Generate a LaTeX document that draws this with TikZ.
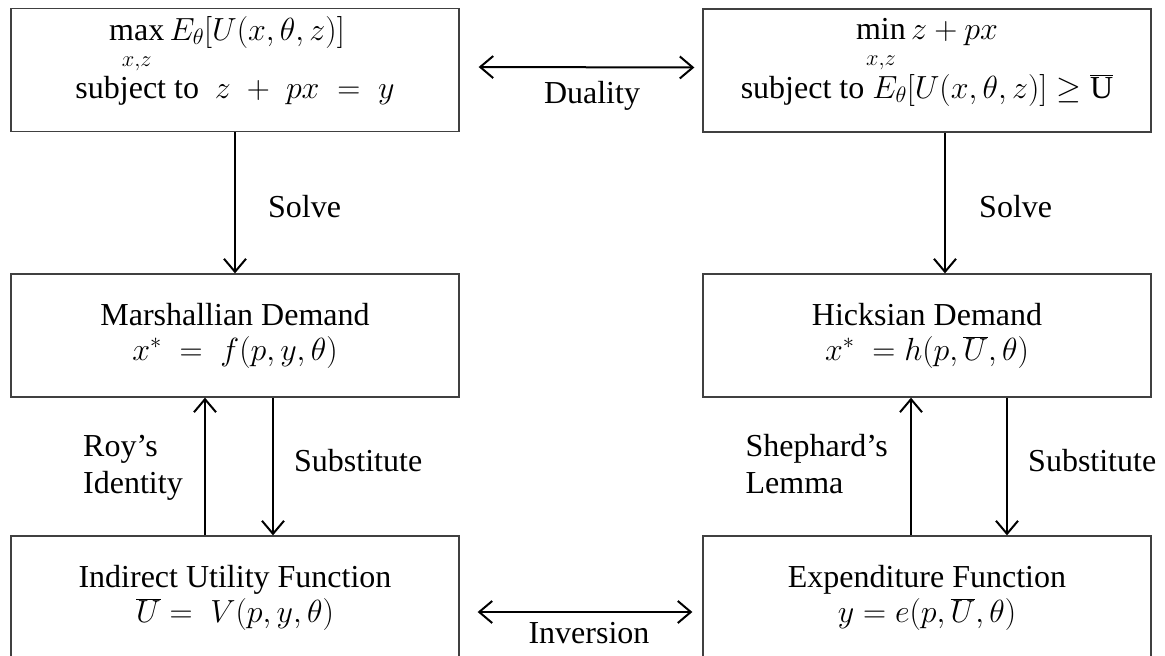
\RequirePackage{fix-cm}
\documentclass[tikz,border=0pt]{standalone}
\usepackage{fontspec}
\setmainfont{Liberation Serif}
\usetikzlibrary{arrows.meta}
\newcommand{\lowsub}{\rule{0pt}{25pt}}
\begin{document}
\begin{tikzpicture}[x=1pt,y=-1pt,
  box/.style={draw=black!75, line width=1.3pt, minimum width=448pt, minimum height=123pt,
    align=center, inner sep=0pt, font=\fontsize{32}{35}\selectfont},
  lbl/.style={inner sep=0pt, font=\fontsize{32}{37}\selectfont},
  tip/.tip={Straight Barb[length=13pt,width=22pt,line width=2pt]},
  arr/.style={line width=2pt, -tip},
  darr/.style={line width=2pt, tip-tip}]
\clip (0,0) rectangle (1165,656);
\node[box] (A) at (235,70) {};
\node[lbl, anchor=base] (A1) at (227,40) {$\max\limits_{\lowsub x,z} E_\theta[U(x,\theta,z)]$};
\node[lbl, anchor=base] (A2) at (235,98) {subject to\ \ $z \;+\; px \;=\; y$};
\node[box] (B) at (927,70.5) {};
\node[lbl, anchor=base] (B1) at (927,39) {$\min\limits_{\lowsub x,z} z+px$};
\node[lbl, anchor=base] (B2) at (927,98) {subject to $E_\theta[U(x,\theta,z)] \geq \overline{\mathrm{U}}$};
\node[box] (C) at (235,335.5) {Marshallian Demand\\ $x^* \;=\; f(p,y,\theta)$};
\node[box] (D) at (927,335.5) {Hicksian Demand\\ $x^*\; = h(p,\overline{U},\theta)$};
\node[box] (E) at (235,597.5) {Indirect Utility Function\\ $\overline{U} =\; V(p,y,\theta)$};
\node[box] (F) at (927,597.5) {Expenditure Function\\ $y = e(p,\overline{U},\theta)$};
\draw[arr] (A.south) -- (C.north);
\draw[arr] ([xshift=18pt]B.south) -- ([xshift=18pt]D.north);
\draw[arr] ([xshift=-30pt]E.north) -- ([xshift=-30pt]C.south);
\draw[arr] ([xshift=38pt]C.south) -- ([xshift=38pt]E.north);
\draw[arr] ([xshift=-16pt]F.north) -- ([xshift=-16pt]D.south);
\draw[arr] ([xshift=80pt]D.south) -- ([xshift=80pt]F.north);
\draw[darr] ([xshift=19pt,yshift=3pt]A.east) -- ([xshift=-8pt,yshift=3pt]B.west);
\draw[darr] ([xshift=18pt,yshift=-14.5pt]E.east) -- ([xshift=-10pt,yshift=-14.5pt]F.west);
\node[lbl, anchor=base] (dual) at (592,103) {Duality};
\node[lbl, anchor=base] (inv) at (589,643) {Inversion};
\node[lbl, anchor=base west] (solveL) at (268,217) {Solve};
\node[lbl, anchor=base west] (solveR) at (979,217) {Solve};
\node[lbl, anchor=base west] (subL) at (294,471) {Substitute};
\node[lbl, anchor=base west] (subR) at (1028,471) {Substitute};
\node[lbl, anchor=base west, align=left] (roy) at (83,493) {Roy's\\ Identity};
\node[lbl, anchor=base east, align=left] (shep) at (888,493) {Shephard's\\ Lemma};
\end{tikzpicture}
\end{document}
